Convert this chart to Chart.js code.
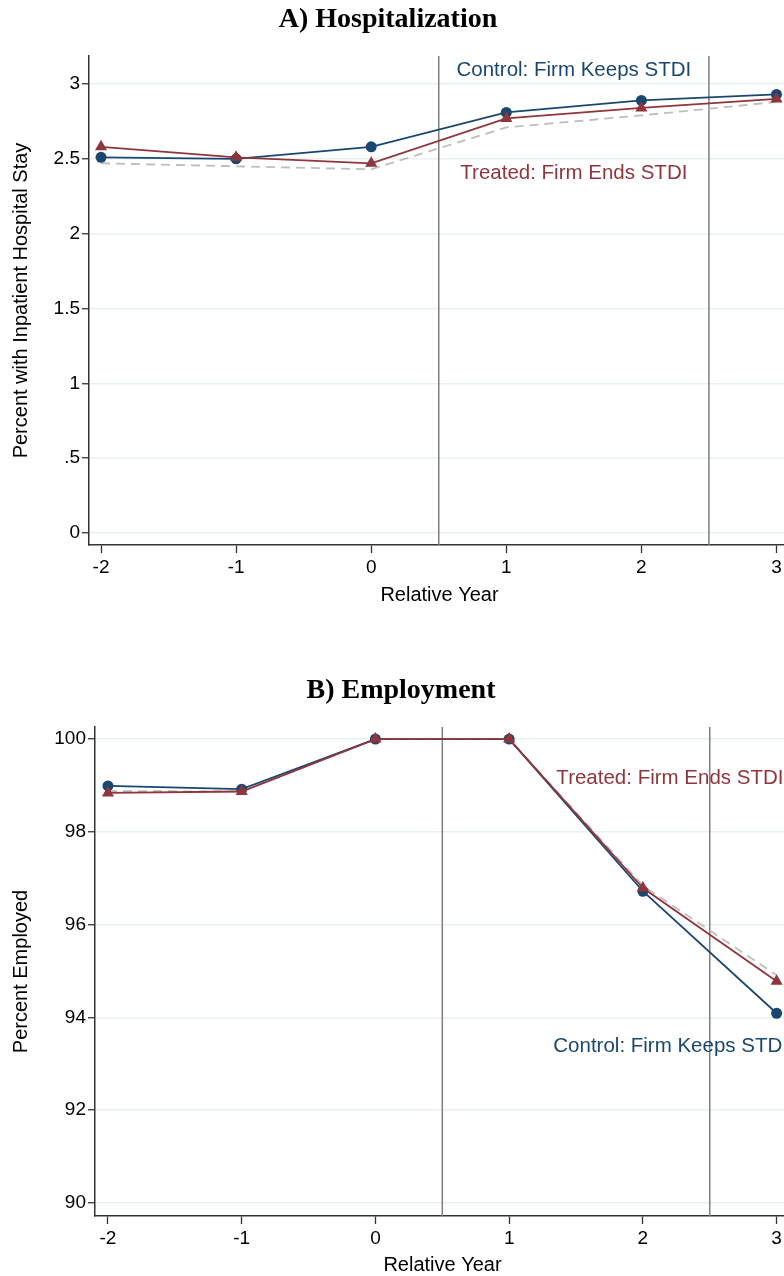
<!DOCTYPE html>
<html>
<head>
<meta charset="utf-8">
<script src="https://cdn.jsdelivr.net/npm/chart.js@4/dist/chart.umd.min.js"></script>
<style>
  html, body { margin: 0; padding: 0; background: #fff; overflow: hidden; }
  #wrap { position: relative; width: 784px; height: 1276px; overflow: hidden; }
  canvas { position: absolute; left: 0; }
</style>
</head>
<body>
<div id="wrap">
  <canvas id="hosp" width="790" height="611" style="top:0"></canvas>
  <canvas id="emp" width="790" height="621" style="top:660px"></canvas>
</div>
<script>
// relative years
const years = [-2, -1, 0, 1, 2, 3];
const policyLines = [0.5, 2.5];

// A) hospitalization, percent with inpatient stay
const hospControl = [2.51, 2.50, 2.58, 2.81, 2.89, 2.93];
const hospTreated = [2.58, 2.51, 2.47, 2.77, 2.84, 2.90];
const hospDashed = [2.47, 2.45, 2.43, 2.71, 2.79, 2.88];
const hospTicks = [0, 0.5, 1, 1.5, 2, 2.5, 3];
const hospTickLabels = ['0', '.5', '1', '1.5', '2', '2.5', '3'];

// B) employment, percent employed
const empControl = [98.99, 98.92, 100, 100, 96.72, 94.09];
const empTreated = [98.84, 98.87, 100, 100, 96.79, 94.78];
const empDashed = [98.88, 98.87, 100, 100, 96.84, 94.91];
const empTicks = [90, 92, 94, 96, 98, 100];
const empTickLabels = ['90', '92', '94', '96', '98', '100'];

const NAVY = '#1a476f';
const MAROON = '#90353b';
const SANS = '"Liberation Sans", Arial, sans-serif';

const toPoints = (ys) => years.map((x, i) => ({ x: x, y: ys[i] }));

// panel title, vertical reference lines and text labels
const extras = {
  id: 'extras',
  beforeDatasetsDraw(chart, args, opts) {
    const { ctx, chartArea, scales: { x } } = chart;
    ctx.save();
    ctx.strokeStyle = '#7f7f7f';
    ctx.lineWidth = 1.5;
    policyLines.forEach(v => {
      const px = x.getPixelForValue(v);
      ctx.beginPath();
      ctx.moveTo(px, chartArea.top);
      ctx.lineTo(px, chartArea.bottom);
      ctx.stroke();
    });
    ctx.restore();
  },
  afterDatasetsDraw(chart, args, opts) {
    const { ctx, scales: { x, y } } = chart;
    ctx.save();
    ctx.textBaseline = 'middle';
    ctx.font = 'bold 28px "Liberation Serif", "Times New Roman", serif';
    ctx.fillStyle = '#000';
    ctx.textAlign = 'center';
    ctx.fillText(opts.title, opts.titleX, opts.titleY);
    ctx.font = '20.5px ' + SANS;
    (opts.labels || []).forEach(l => {
      ctx.fillStyle = l.color;
      ctx.textAlign = l.align;
      ctx.fillText(l.text, x.getPixelForValue(l.x), y.getPixelForValue(l.y));
    });
    ctx.restore();
  }
};

function makeChart(id, cfg) {
  return new Chart(document.getElementById(id), {
    type: 'line',
    data: {
      datasets: [
        {
          data: toPoints(cfg.treated),
          borderColor: MAROON, backgroundColor: MAROON,
          borderWidth: 1.8, pointStyle: 'triangle', pointRadius: 7,
          pointBorderWidth: 0, clip: false
        },
        {
          data: toPoints(cfg.control),
          borderColor: NAVY, backgroundColor: NAVY,
          borderWidth: 1.8, pointStyle: 'circle', pointRadius: 5.5,
          pointBorderWidth: 0, clip: false
        },
        {
          data: toPoints(cfg.dashed),
          borderColor: '#bdbdbd', borderWidth: 1.8,
          borderDash: [9, 6], pointRadius: 0, clip: false
        }
      ]
    },
    options: {
      responsive: false,
      animation: false,
      devicePixelRatio: 1,
      layout: { autoPadding: false, padding: { top: cfg.areaTop, left: 0, right: 0, bottom: 0 } },
      plugins: {
        legend: { display: false },
        tooltip: { enabled: false },
        title: { display: false },
        extras: { labels: cfg.labels, title: cfg.title, titleX: cfg.titleX, titleY: cfg.titleY }
      },
      scales: {
        x: {
          type: 'linear',
          min: cfg.xmin, max: 3.1,
          afterBuildTicks: (s) => { s.ticks = years.map(v => ({ value: v })); },
          afterFit: (s) => { s.height = cfg.xHeight; s.paddingLeft = 0; s.paddingRight = 0; },
          ticks: { color: '#000', font: { family: SANS, size: 19 }, padding: 3,
                   maxRotation: 0, callback: (v) => String(v) },
          grid: { drawOnChartArea: false, drawTicks: true, tickLength: 8, tickColor: '#333', tickWidth: 1.3 },
          border: { color: '#333', width: 1.5 },
          title: { display: true, text: 'Relative Year', color: '#000',
                   font: { family: SANS, size: 20 }, padding: { top: 4, bottom: 4 } }
        },
        y: {
          type: 'linear',
          min: cfg.ymin, max: cfg.ymax,
          afterBuildTicks: (s) => { s.ticks = cfg.ticks.map(v => ({ value: v })); },
          afterFit: (s) => { s.width = cfg.yWidth; },
          ticks: { color: '#000', font: { family: SANS, size: 19 }, padding: 2,
                   callback: (v) => cfg.tickLabels[cfg.ticks.indexOf(v)] },
          grid: { color: '#e9f0f2', lineWidth: 1.5, drawTicks: true, tickLength: 7, tickColor: '#333', tickWidth: 1.3 },
          border: { color: '#333', width: 1.5 },
          title: { display: true, text: cfg.yTitle, color: '#000',
                   font: { family: SANS, size: 20 }, padding: { top: 9, bottom: 0 } }
        }
      }
    },
    plugins: [extras]
  });
}

makeChart('hosp', {
  title: 'A) Hospitalization', titleX: 388, titleY: 20,
  areaTop: 56,
  treated: hospTreated, control: hospControl, dashed: hospDashed,
  xmin: -2.089, xHeight: 66, yWidth: 89,
  ymin: -0.08, ymax: 3.187,
  ticks: hospTicks, tickLabels: hospTickLabels,
  yTitle: 'Percent with Inpatient Hospital Stay',
  labels: [
    { text: 'Control: Firm Keeps STDI', x: 1.5, y: 3.094, color: NAVY, align: 'center' },
    { text: 'Treated: Firm Ends STDI', x: 1.5, y: 2.40, color: MAROON, align: 'center' }
  ]
});

makeChart('emp', {
  title: 'B) Employment', titleX: 401, titleY: 31,
  areaTop: 67,
  treated: empTreated, control: empControl, dashed: empDashed,
  xmin: -2.097, xHeight: 65, yWidth: 95,
  ymin: 89.72, ymax: 100.26,
  ticks: empTicks, tickLabels: empTickLabels,
  yTitle: 'Percent Employed',
  labels: [
    { text: 'Treated: Firm Ends STDI', x: 1.353, y: 99.16, color: MAROON, align: 'left' },
    { text: 'Control: Firm Keeps STDI', x: 1.33, y: 93.38, color: NAVY, align: 'left' }
  ]
});
</script>
</body>
</html>
